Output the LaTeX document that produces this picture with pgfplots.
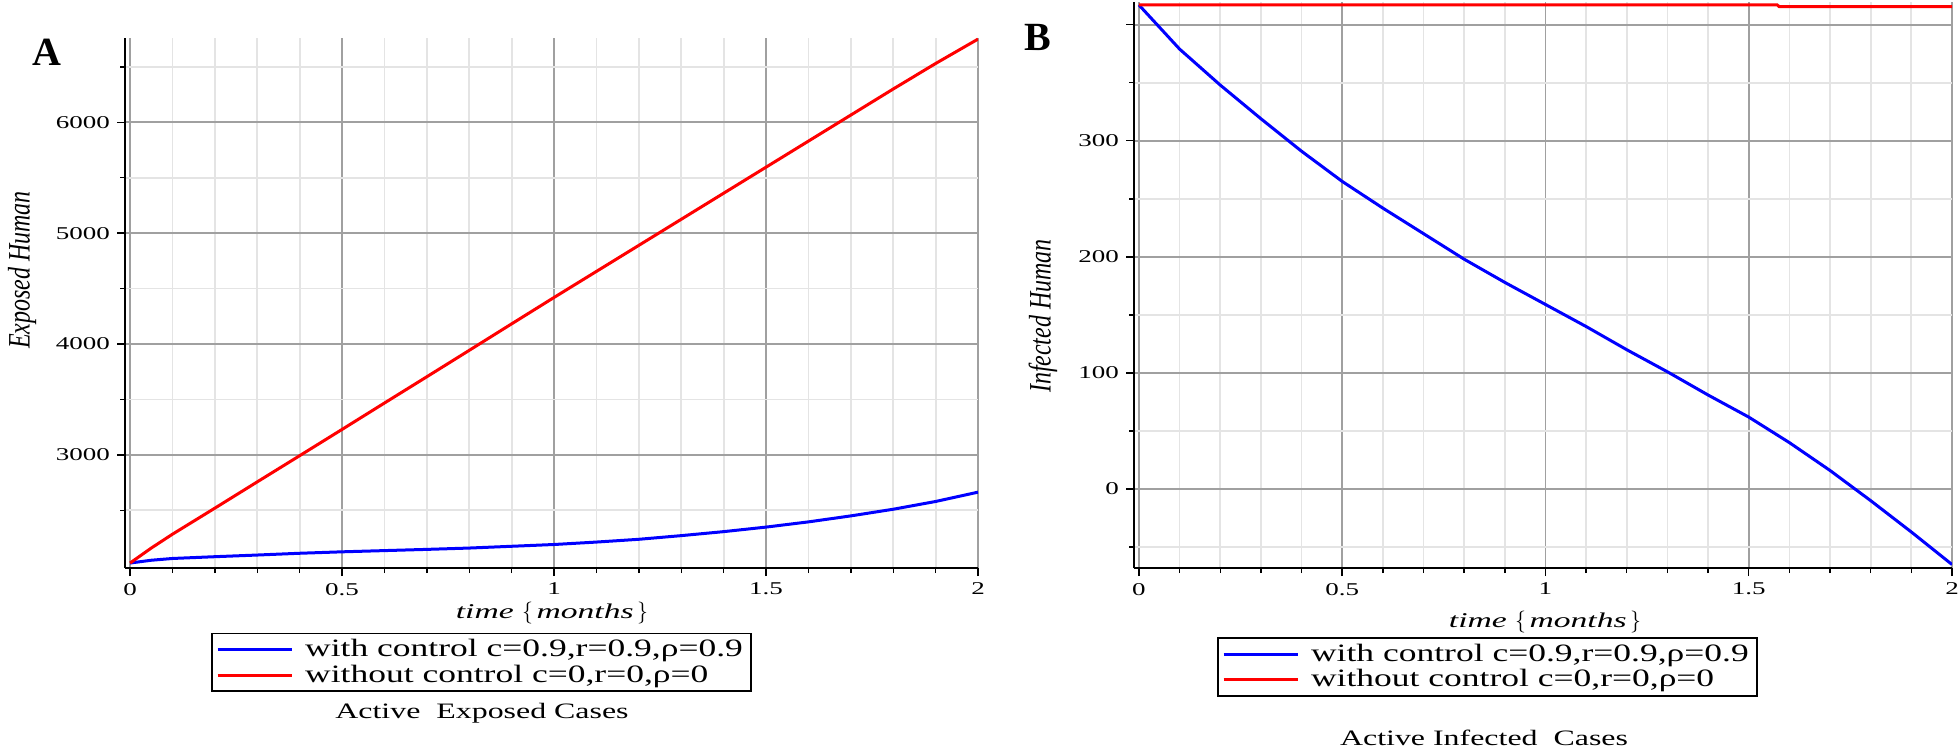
\documentclass[border=0pt]{standalone}
\usepackage{fontspec}
\usepackage{graphicx}
\setmainfont{Liberation Serif}
\newfontfamily\legfont{Liberation Serif}[FakeStretch=1.42]
\newfontfamily\titfont{Liberation Serif}[FakeStretch=1.45]
\newfontfamily\tickfont{Liberation Serif}[FakeStretch=1.5]
\newfontfamily\labfont{Liberation Serif}[FakeStretch=1.6]
\usepackage{pgfplots}
\pgfplotsset{compat=1.18}

\definecolor{majgrid}{HTML}{A0A0A0}
\definecolor{mingrid}{HTML}{E4E4E4}
\definecolor{myblue}{RGB}{0,0,255}
\definecolor{myred}{RGB}{255,0,0}

\pgfplotsset{
 mapleaxis/.style={
  scale only axis,
  axis x line*=bottom, axis y line*=left,
  axis line style={-, black, line width=1pt},
  xmin=-0.012, xmax=2,
  xtick={0,0.5,1,1.5,2},
  minor x tick num=4,
  grid=both,
  major grid style={majgrid, line width=0.9pt},
  minor grid style={mingrid, line width=0.9pt},
  tick align=outside,
  major tick length=4pt, minor tick length=2.5pt,
  tick style={black, line width=0.7pt},
  xticklabel style={font=\tickfont\fontsize{9}{10}\selectfont},
  yticklabel style={font=\tickfont\fontsize{9}{10}\selectfont},
  /pgf/number format/assume math mode=true,
  /pgf/number format/set thousands separator={},
  legend cell align=left,
  legend style={draw=black, line width=0.9pt, font=\legfont\fontsize{12.5}{14.5}\selectfont, inner xsep=2pt, inner ysep=1pt, row sep=-1.5pt, anchor=north},
  legend image code/.code={\draw[#1, line width=1.5pt] (0pt,0pt) -- (37pt,0pt); \path (41pt,0pt);},
  clip mode=individual,
 }
}

\begin{document}
\begin{tikzpicture}
\useasboundingbox (0pt,0pt) rectangle (979pt,-375pt);

% ---------------- Panel A ----------------
\begin{axis}[mapleaxis, at={(62.5pt,-284pt)}, anchor=south west,
  width=426.5pt, height=265pt,
  ymin=1980, ymax=6760,
  ytick={3000,4000,5000,6000},
  minor ytick={2500,3500,4500,5500,6500},
  legend style={at={(0.418,-0.122)}}]
\addplot[myblue, line width=1.5pt] coordinates {
(0,2025) (0.05,2050) (0.1,2066) (0.2,2082) (0.3,2097) (0.4,2113) (0.5,2126)
(0.6,2137) (0.7,2148) (0.8,2160) (0.9,2176) (1.0,2192) (1.1,2214)
(1.2,2239) (1.3,2272) (1.4,2308) (1.5,2349) (1.6,2396) (1.7,2450)
(1.8,2510) (1.9,2580) (2.0,2664)};
\addlegendentry{with control c=0.9,r=0.9,ρ=0.9}
\addplot[myred, line width=1.5pt] coordinates {
(0,2025) (0.05,2160) (0.1,2285) (0.2,2520) (0.3,2757) (0.4,2993) (0.5,3230)
(0.6,3468) (0.7,3705) (0.8,3943) (0.9,4182) (1.0,4420) (1.1,4655)
(1.2,4890) (1.3,5125) (1.4,5360) (1.5,5595) (1.6,5830) (1.7,6065)
(1.8,6300) (1.9,6530) (2.0,6750)};
\addlegendentry{without control c=0,r=0,ρ=0}
\end{axis}

% ---------------- Panel B ----------------
\begin{axis}[mapleaxis, at={(567pt,-284pt)}, anchor=south west,
  width=409pt, height=283pt,
  ymin=-68, ymax=419.5,
  ytick={0,100,200,300,400},
  yticklabels={0,100,200,300,{}},
  minor ytick={-50,50,150,250,350},
  legend style={at={(0.432,-0.122)}}]
\addplot[myblue, line width=1.5pt] coordinates {
(0,417) (0.1,379) (0.2,348) (0.3,319) (0.4,291) (0.5,265) (0.6,242)
(0.7,220) (0.8,198) (0.9,178) (1.0,159) (1.1,140) (1.2,120) (1.3,101)
(1.4,81) (1.5,62) (1.6,40) (1.7,16) (1.8,-10) (1.9,-37) (2.0,-65)};
\addlegendentry{with control c=0.9,r=0.9,ρ=0.9}
\addplot[myred, line width=1.5pt] coordinates {
(0,417) (1.57,417) (1.575,415.5) (2,415.5)};
\addlegendentry{without control c=0,r=0,ρ=0}
\end{axis}

% ---------------- Texts ----------------
\node[font=\bfseries\fontsize{20}{24}\selectfont] at (23.5pt,-26pt) {A};
\node[font=\bfseries\fontsize{20}{24}\selectfont] at (519pt,-18.5pt) {B};

\node[font=\labfont\itshape\fontsize{10.5}{12}\selectfont] at (276pt,-306.5pt) {time $\{$\,months\,$\}$};
\node[font=\labfont\itshape\fontsize{10.5}{12}\selectfont] at (772.5pt,-311pt) {time $\{$\,months\,$\}$};

\node[font=\itshape\fontsize{12}{14}\selectfont, rotate=90] at (11pt,-135pt) {\scalebox{1}[1.3]{Exposed Human}};
\node[font=\itshape\fontsize{12}{14}\selectfont, rotate=90] at (521.5pt,-158pt) {\scalebox{1}[1.3]{Infected Human}};

\node[font=\titfont\fontsize{11}{13}\selectfont] at (241pt,-356.5pt) {Active\ \ Exposed Cases};
\node[font=\titfont\fontsize{11}{13}\selectfont] at (742pt,-369pt) {Active Infected\ \ Cases};
\end{tikzpicture}
\end{document}
